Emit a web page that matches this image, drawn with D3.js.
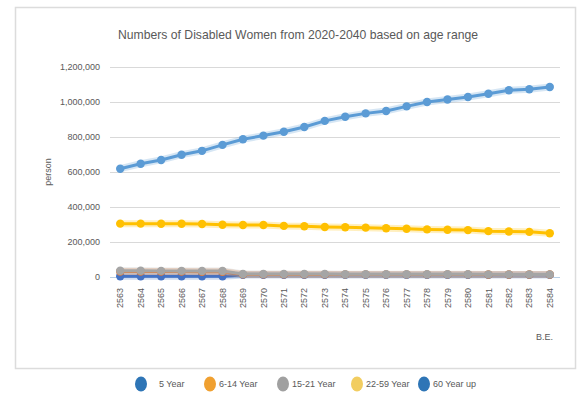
<!DOCTYPE html>
<html>
<head>
<meta charset="utf-8">
<script src="https://cdn.jsdelivr.net/npm/d3@7"></script>
<style>
  body { margin: 0; background: #fff; }
  text { font-family: "Liberation Sans Narrow", "Liberation Sans", Arial, sans-serif; fill: #595959; }
</style>
</head>
<body>
<div id="chart"></div>
<script>
// B.E. years on the category axis
var years = ["2563","2564","2565","2566","2567","2568","2569","2570","2571","2572","2573",
             "2574","2575","2576","2577","2578","2579","2580","2581","2582","2583","2584"];

var seriesNames = ["5 Year", "6-14 Year", "15-21 Year", "22-59 Year", "60 Year up"];

// values (persons)
var age5    = [4000,4000,4000,4000,4000,4000,12000,12000,12000,12000,12000,12000,12000,12000,12000,12000,12000,12000,12000,12000,12000,12000];
var age6_14 = [31000,31000,31000,31000,30000,30000,15000,15000,15000,15000,15000,15000,15000,15000,15000,15000,15000,15000,14000,14000,14000,14000];
var age15_21= [36000,36000,35000,35000,34000,34000,17000,17000,17000,17000,17000,16000,16000,16000,16000,16000,16000,16000,15000,15000,15000,15000];
var age22_59= [305000,305000,304000,304000,303000,299000,297000,297000,292000,290000,286000,284000,282000,279000,276000,272000,270000,268000,262000,260000,258000,250000];
var age60up = [619000,647000,669000,699000,721000,755000,787000,808000,830000,857000,892000,916000,935000,949000,975000,1000000,1014000,1029000,1047000,1067000,1073000,1086000];

var yTicks = [0, 200000, 400000, 600000, 800000, 1000000, 1200000];

var lineColors   = ["#4472C4", "#ED7D31", "#A5A5A5", "#FFC000", "#5B9BD5"];
var legendColors = ["#2E75B6", "#F0A030", "#A0A0A0", "#F2CD60", "#2E75B6"];

var W = 577, H = 394;
var svg = d3.select("#chart").append("svg").attr("width", W).attr("height", H);

// chart frame
svg.append("rect").attr("x", 15.5).attr("y", 7.5).attr("width", 560).attr("height", 361)
    .attr("fill", "#fff").attr("stroke", "#dcdcdc").attr("stroke-width", 1.5);

var plot = {left: 110, right: 560, top: 67, bottom: 277};

var x = d3.scaleBand().domain(years).range([plot.left, plot.right]);
var y = d3.scaleLinear().domain([0, 1200000]).range([plot.bottom, plot.top]);

svg.append("text").attr("x", 298).attr("y", 39).attr("text-anchor", "middle")
    .attr("textLength", 360).attr("lengthAdjust", "spacingAndGlyphs")
    .style("font-size", "13px").text("Numbers of Disabled Women from 2020-2040 based on age range");

// gridlines
svg.append("g").selectAll("line").data(yTicks).enter().append("line")
    .attr("x1", plot.left).attr("x2", plot.right)
    .attr("y1", function(d) { return Math.round(y(d)) + 0.5; })
    .attr("y2", function(d) { return Math.round(y(d)) + 0.5; })
    .attr("stroke", function(d) { return d === 0 ? "#b9cfe6" : "#d9d9d9"; })
    .attr("stroke-width", 1);

// y axis labels
var fmt = d3.format(",");
var yAxis = d3.axisLeft(y).tickValues(yTicks).tickSize(0).tickPadding(10).tickFormat(fmt);
svg.append("g").attr("transform", "translate(" + plot.left + ",0)").call(yAxis)
    .call(function(g) { g.select(".domain").remove(); })
    .selectAll("text").style("font-size", "9px").attr("fill", "#666");

// x axis labels, rotated
var xAxis = d3.axisBottom(x).tickSize(0).tickPadding(8);
svg.append("g").attr("transform", "translate(0," + plot.bottom + ")").call(xAxis)
    .call(function(g) { g.select(".domain").remove(); })
    .selectAll("text")
    .style("font-size", "9px").attr("fill", "#666")
    .attr("text-anchor", "end")
    .attr("transform", "rotate(-90)")
    .attr("x", -11).attr("y", 0).attr("dy", "0.35em");

svg.append("text").attr("transform", "translate(51,172) rotate(-90)")
    .attr("text-anchor", "middle").style("font-size", "9px").attr("fill", "#666").text("person");
svg.append("text").attr("x", 553).attr("y", 340).attr("text-anchor", "end")
    .style("font-size", "9px").attr("fill", "#666").text("B.E.");

// series
var data = [age5, age6_14, age15_21, age22_59, age60up];
var line = d3.line()
    .x(function(d, i) { return x(years[i]) + x.bandwidth() / 2; })
    .y(function(d) { return y(d); });

data.forEach(function(vals, k) {
    var g = svg.append("g");
    g.append("path").datum(vals).attr("d", line)
        .attr("fill", "none").attr("stroke", lineColors[k]).attr("stroke-opacity", 0.25)
        .attr("stroke-width", 7).attr("stroke-linejoin", "round");
    g.append("path").datum(vals).attr("d", line)
        .attr("fill", "none").attr("stroke", lineColors[k])
        .attr("stroke-width", 3).attr("stroke-linejoin", "round");
    g.selectAll("circle").data(vals).enter().append("circle")
        .attr("cx", function(d, i) { return x(years[i]) + x.bandwidth() / 2; })
        .attr("cy", function(d) { return y(d); })
        .attr("r", 4.2).attr("fill", lineColors[k]);
});

// legend
var legendX = [141, 210, 283, 357, 424];
var lg = svg.append("g").selectAll("g").data(seriesNames).enter().append("g")
    .attr("transform", function(d, i) { return "translate(" + legendX[i] + ",384)"; });
lg.append("ellipse").attr("rx", 6).attr("ry", 7.5)
    .attr("fill", function(d, i) { return legendColors[i]; });
lg.append("text").attr("x", function(d, i) { return i === 0 ? 18 : 9; }).attr("dy", "0.35em")
    .style("font-size", "9px").attr("fill", "#666").text(function(d) { return d; });
</script>
</body>
</html>
